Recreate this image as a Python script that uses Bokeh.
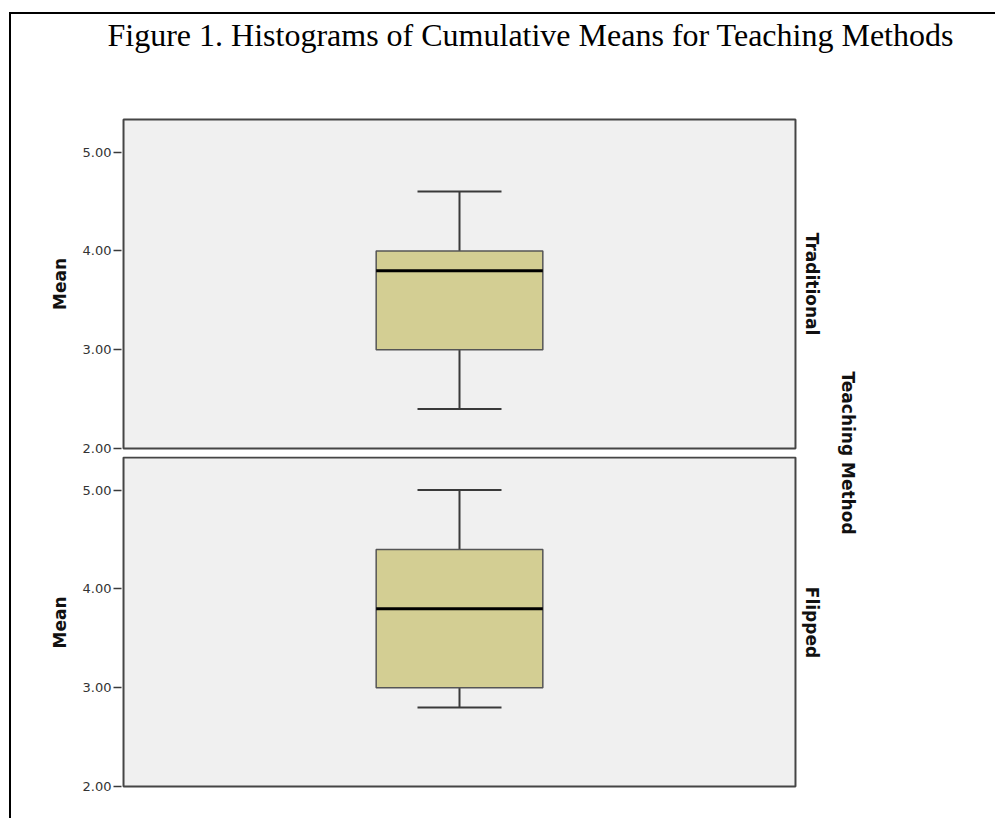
from bokeh.plotting import figure
from bokeh.layouts import column, row
from bokeh.models import (Range1d, LinearAxis, FixedTicker, PrintfTickFormatter,
                          Title, ColumnDataSource)
from bokeh.embed import file_html
from bokeh.resources import INLINE

# ---------------- data ----------------
methods = ["Traditional", "Flipped"]
whisker_low = [2.4, 2.8]
q1 = [3.0, 3.0]
median = [3.8, 3.8]
q3 = [4.0, 4.4]
whisker_high = [4.6, 5.0]
tick_values = [2.0, 3.0, 4.0, 5.0]
value_label = "Mean"
facet_label = "Teaching Method"
title_text = "Figure 1. Histograms of Cumulative Means for Teaching Methods"

# ---------------- layout / style constants ----------------
PANEL_MIN, PANEL_MAX = 2.0, 5.33
X_LEFT, X_RIGHT = 0.0, 1.0
PAD_X = 0.003
BOX_W = 0.248
CAP_W = 0.125
XC = (X_LEFT + X_RIGHT) / 2

BOX_FILL = "#D3CE93"
PANEL_FILL = "#F0F0F0"
EDGE = "#454545"
WHISK = "#3a3a3a"
SANS = "DejaVu Sans"
LABEL_COLOR = "#111111"

W_PANEL_FIG = 819
W_TOTAL = 984


def clean(p):
    p.xgrid.visible = False
    p.ygrid.visible = False
    p.outline_line_color = None
    p.background_fill_color = "white"
    p.border_fill_color = "white"


def panel_figure(name, lo, a, m, b, hi, y_lo, y_hi, height, top_border, bottom_border):
    p = figure(width=W_PANEL_FIG, height=height, output_backend="svg",
               toolbar_location=None,
               x_range=Range1d(X_LEFT - PAD_X, X_RIGHT + PAD_X),
               y_range=Range1d(y_lo, y_hi),
               min_border_left=110, min_border_right=33,
               min_border_top=top_border, min_border_bottom=bottom_border)
    p.xaxis.visible = False
    clean(p)

    ax = p.yaxis[0]
    ax.ticker = FixedTicker(ticks=tick_values)
    ax.formatter = PrintfTickFormatter(format="%.2f")
    ax.axis_line_color = None
    ax.major_tick_out = 8
    ax.major_tick_in = 0
    ax.major_tick_line_color = WHISK
    ax.major_tick_line_width = 1.5
    ax.minor_tick_line_color = None
    ax.major_label_standoff = 2
    ax.major_label_text_font = SANS
    ax.major_label_text_font_size = "13px"
    ax.major_label_text_color = "#333333"
    ax.axis_label = value_label
    ax.axis_label_standoff = 10
    ax.axis_label_text_font = SANS
    ax.axis_label_text_font_style = "bold"
    ax.axis_label_text_font_size = "17px"
    ax.axis_label_text_color = LABEL_COLOR

    rax = LinearAxis(ticker=FixedTicker(ticks=[]), axis_label=name,
                     axis_line_color=None, major_tick_line_color=None,
                     minor_tick_line_color=None, major_tick_out=0, major_tick_in=0,
                     major_label_standoff=0, axis_label_standoff=4,
                     axis_label_text_font=SANS, axis_label_text_font_style="bold",
                     axis_label_text_font_size="17px", axis_label_text_color=LABEL_COLOR)
    p.add_layout(rax, "right")

    src = ColumnDataSource(dict(
        pl=[X_LEFT], pr=[X_RIGHT], pb=[PANEL_MIN], pt=[PANEL_MAX],
        xc=[XC], bl=[XC - BOX_W / 2], br=[XC + BOX_W / 2],
        cl=[XC - CAP_W / 2], cr=[XC + CAP_W / 2],
        lo=[lo], q1=[a], med=[m], q3=[b], hi=[hi]))
    p.quad(left="pl", right="pr", bottom="pb", top="pt", source=src,
           fill_color=PANEL_FILL, line_color=EDGE, line_width=2)
    p.segment(x0="xc", y0="q3", x1="xc", y1="hi", source=src, line_color=WHISK, line_width=2)
    p.segment(x0="xc", y0="q1", x1="xc", y1="lo", source=src, line_color=WHISK, line_width=2)
    p.quad(left="bl", right="br", bottom="q1", top="q3", source=src,
           fill_color=BOX_FILL, line_color="#555555", line_width=1.5)
    p.segment(x0="bl", y0="med", x1="br", y1="med", source=src, line_color="black", line_width=3)
    p.segment(x0="cl", y0="hi", x1="cr", y1="hi", source=src, line_color=WHISK, line_width=2)
    p.segment(x0="cl", y0="lo", x1="cr", y1="lo", source=src, line_color=WHISK, line_width=2)
    return p


# top panel: frame 333 px, bottom panel: frame 332 px
H_TOP = 3 + 333 + 6
H_BOT = 0 + 332 + 30
p1 = panel_figure(methods[0], whisker_low[0], q1[0], median[0], q3[0], whisker_high[0],
                  1.98, 5.35, H_TOP, 3, 6)
p2 = panel_figure(methods[1], whisker_low[1], q1[1], median[1], q3[1], whisker_high[1],
                  1.98, 5.34, H_BOT, 0, 30)

# caption figure (spacer title first, so the caption sits above it)
p0 = figure(width=W_TOTAL, height=100, output_backend="svg", toolbar_location=None,
            x_range=Range1d(0, 1), y_range=Range1d(0, 1),
            min_border_left=110, min_border_right=W_TOTAL - 110 - 676,
            min_border_top=99, min_border_bottom=0)
p0.xaxis.visible = False
p0.yaxis.visible = False
clean(p0)
p0.add_layout(Title(text=" ", text_font_size="53px", standoff=0), "above")
p0.add_layout(Title(text=title_text, text_font="Liberation Serif", text_font_size="32px",
                    text_font_style="normal", text_color="black", align="left",
                    offset=-14, standoff=0), "above")

# facet title spanning both panels
p3 = figure(width=60, height=H_TOP + H_BOT, output_backend="svg", toolbar_location=None,
            x_range=Range1d(0, 1), y_range=Range1d(0, 1), y_axis_location="right",
            min_border_left=0, min_border_right=59, min_border_top=3,
            min_border_bottom=H_TOP + H_BOT - 3 - 671)
p3.xaxis.visible = False
clean(p3)
fax = p3.yaxis[0]
fax.ticker = FixedTicker(ticks=[])
fax.axis_line_color = None
fax.major_tick_line_color = None
fax.minor_tick_line_color = None
fax.major_tick_out = 0
fax.major_label_standoff = 0
fax.axis_label = facet_label
fax.axis_label_standoff = 6
fax.axis_label_text_font = SANS
fax.axis_label_text_font_style = "bold"
fax.axis_label_text_font_size = "17px"
fax.axis_label_text_color = LABEL_COLOR

layout = column(p0, row(column(p1, p2), p3),
                styles={"border-left": "2px solid #000", "border-top": "2px solid #000",
                        "margin-left": "9px", "margin-top": "12px"})

open("out.html", "w").write(file_html(layout, INLINE))
